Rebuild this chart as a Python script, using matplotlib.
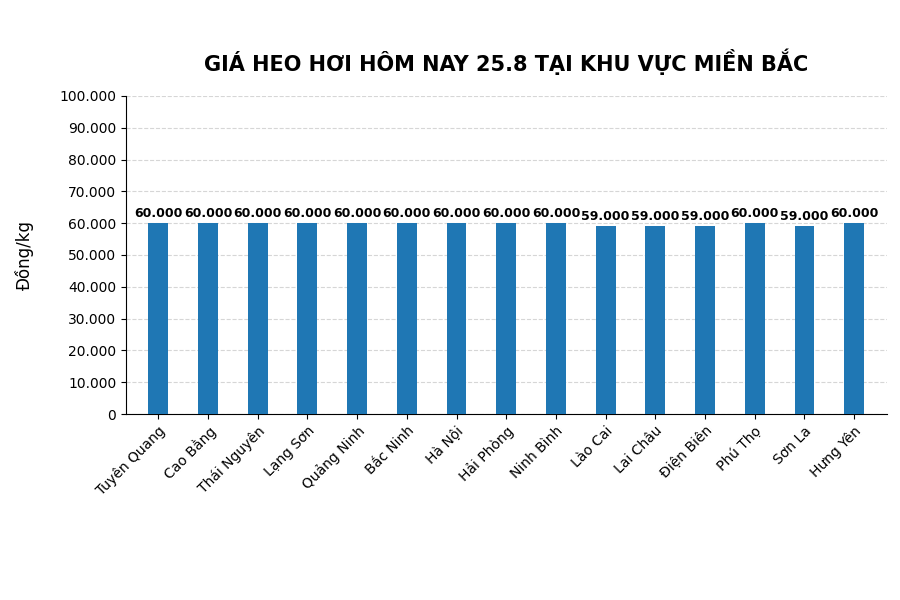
import matplotlib
matplotlib.use("Agg")
import matplotlib.pyplot as plt
from matplotlib.ticker import FuncFormatter

provinces = ["Tuyên Quang", "Cao Bằng", "Thái Nguyên", "Lạng Sơn", "Quảng Ninh", "Bắc Ninh",
             "Hà Nội", "Hải Phòng", "Ninh Bình", "Lào Cai", "Lai Châu", "Điện Biên",
             "Phú Thọ", "Sơn La", "Hưng Yên"]
prices = [60000, 60000, 60000, 60000, 60000, 60000, 60000, 60000, 60000,
          59000, 59000, 59000, 60000, 59000, 60000]

def fmt(v):
    return f"{int(v):,}".replace(",", ".")

fig = plt.figure(figsize=(9, 6), dpi=100)
ax = fig.add_axes([0.14, 0.31, 0.845, 0.53])
x = range(len(provinces))
ax.bar(x, prices, width=0.4, color="#1f77b4", zorder=3)
for xi, v in zip(x, prices):
    ax.text(xi, v + 1000, fmt(v), ha="center", va="bottom", fontsize=9, fontweight="bold")
ax.set_ylim(0, 100000)
ax.set_xlim(-0.65, len(provinces) - 0.35)
ax.set_yticks(range(0, 100001, 10000))
ax.yaxis.set_major_formatter(FuncFormatter(lambda v, p: fmt(v)))
ax.set_xticks(list(x))
ax.set_xticklabels(provinces, rotation=45, ha="right", rotation_mode="anchor")
ax.grid(axis="y", linestyle="--", color="#cccccc", alpha=0.8, zorder=0)
ax.spines["top"].set_visible(False)
ax.spines["right"].set_visible(False)
ax.set_ylabel("Đồng/kg", fontsize=12, labelpad=18)
ax.set_title("GIÁ HEO HƠI HÔM NAY 25.8 TẠI KHU VỰC MIỀN BẮC", fontsize=15, fontweight="bold", pad=18)
fig.savefig("out.png", dpi=100)
